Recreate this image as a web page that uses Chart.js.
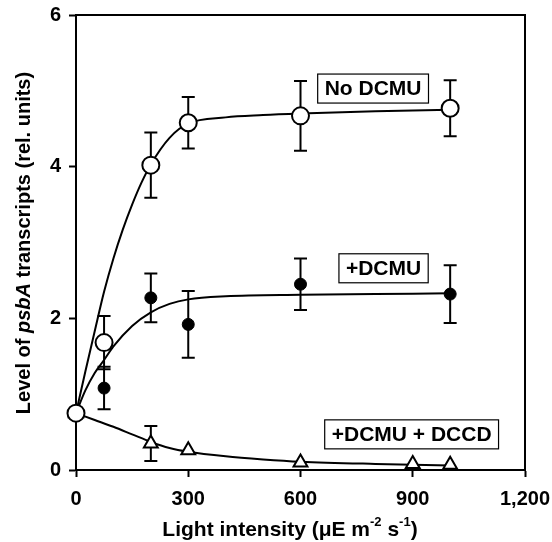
<!DOCTYPE html>
<html>
<head>
<meta charset="utf-8">
<script src="https://cdn.jsdelivr.net/npm/chart.js@4.4.0/dist/chart.umd.min.js"></script>
<style>
  html, body { margin: 0; padding: 0; background: #fff; }
</style>
</head>
<body>
<canvas id="c" width="552" height="542"></canvas>
<script>
// measured points (light intensity, µE m-2 s-1)
const lightX = [0, 75, 200, 300, 600, 1000];
const noDcmu = [0.75, 1.68, 4.02, 4.58, 4.67, 4.77];
const noDcmuErr = [0, 0.35, 0.43, 0.34, 0.46, 0.37];
const dcmu = [0.75, 1.08, 2.27, 1.92, 2.45, 2.32];
const dcmuErr = [0, 0.28, 0.32, 0.44, 0.34, 0.38];
const dccdX = [0, 200, 300, 600, 900, 1000];
const dccd = [0.75, 0.35, 0.26, 0.10, 0.08, 0.07];
const dccdErr = [0, 0.23, 0, 0, 0, 0];

// fitted curves
const noDcmuFitX = [0, 25, 50, 75, 100, 125, 150, 175, 200, 250, 300, 400, 500, 600, 800, 1000];
const noDcmuFit = [0.75, 1.30, 1.83, 2.35, 2.79, 3.17, 3.50, 3.79, 4.03, 4.38, 4.57, 4.65, 4.68, 4.70, 4.73, 4.75];
const dcmuFitX = [0, 25, 50, 75, 100, 150, 200, 250, 300, 400, 600, 800, 1000];
const dcmuFit = [0.75, 1.05, 1.28, 1.45, 1.63, 1.90, 2.08, 2.19, 2.25, 2.29, 2.31, 2.32, 2.33];
const dccdFitX = [0, 50, 100, 150, 200, 250, 300, 400, 500, 600, 800, 1000];
const dccdFit = [0.75, 0.66, 0.57, 0.47, 0.37, 0.29, 0.24, 0.18, 0.14, 0.11, 0.08, 0.06];

// axis ticks
const xTicks = [0, 300, 600, 900, 1200];
const yTicks = [0, 2, 4, 6];

// curve labels: text, x, y (data units, box centre)
const labels = [
  { text: "No DCMU", x: 794, y: 5.03 },
  { text: "+DCMU", x: 822, y: 2.66 },
  { text: "+DCMU + DCCD", x: 897, y: 0.47 }
];

const FONT = '"Liberation Sans", Arial, Helvetica, sans-serif';
const pts = (xs, ys) => xs.map((v, i) => ({ x: v, y: ys[i] }));

const errorSets = [
  { xs: lightX, ys: noDcmu, err: noDcmuErr },
  { xs: lightX, ys: dcmu, err: dcmuErr },
  { xs: dccdX, ys: dccd, err: dccdErr }
];

const decor = {
  id: "decor",
  beforeDatasetsDraw(chart) {
    const { ctx, scales: { x, y } } = chart;
    ctx.save();
    ctx.strokeStyle = "#000";
    ctx.lineWidth = 2;
    errorSets.forEach(s => s.xs.forEach((v, i) => {
      const e = s.err[i];
      if (!e) return;
      const px = x.getPixelForValue(v);
      const top = y.getPixelForValue(s.ys[i] + e);
      const bot = y.getPixelForValue(s.ys[i] - e);
      ctx.beginPath();
      ctx.moveTo(px, top); ctx.lineTo(px, bot);
      ctx.moveTo(px - 6.5, top); ctx.lineTo(px + 6.5, top);
      ctx.moveTo(px - 6.5, bot); ctx.lineTo(px + 6.5, bot);
      ctx.stroke();
    }));
    ctx.restore();
  },
  afterDraw(chart) {
    const { ctx, chartArea: a, scales: { x, y } } = chart;
    ctx.save();
    // top and right frame
    ctx.strokeStyle = "#000";
    ctx.lineWidth = 2;
    ctx.beginPath();
    ctx.moveTo(a.left - 1, a.top); ctx.lineTo(a.right, a.top); ctx.lineTo(a.right, a.bottom);
    ctx.stroke();

    // label boxes
    ctx.font = "bold 21px " + FONT;
    ctx.textAlign = "center";
    ctx.textBaseline = "middle";
    labels.forEach(l => {
      const cx = x.getPixelForValue(l.x), cy = y.getPixelForValue(l.y);
      const w = ctx.measureText(l.text).width + 14, h = 29;
      ctx.fillStyle = "#fff";
      ctx.fillRect(cx - w / 2, cy - h / 2, w, h);
      ctx.lineWidth = 1.2;
      ctx.strokeRect(cx - w / 2, cy - h / 2, w, h);
      ctx.fillStyle = "#000";
      ctx.fillText(l.text, cx, cy + 1);
    });

    // y title with italic gene name
    ctx.save();
    ctx.translate(24, 243);
    ctx.rotate(-Math.PI / 2);
    const yParts = [
      ["Level of ", "bold 20px "],
      ["psbA", "italic bold 20px "],
      [" transcripts (rel. units)", "bold 20px "]
    ];
    drawParts(ctx, yParts, 0, 0);
    ctx.restore();

    // x title with superscripts
    const xParts = [
      ["Light intensity (\u03bcE m", "bold 21px ", 0],
      ["-2", "bold 13px ", -8],
      [" s", "bold 21px ", 0],
      ["-1", "bold 13px ", -8],
      [")", "bold 21px ", 0]
    ];
    drawParts(ctx, xParts, 290, 530);
    ctx.restore();
  }
};

function drawParts(ctx, parts, cx, cy) {
  ctx.textAlign = "left";
  ctx.textBaseline = "middle";
  let total = 0;
  parts.forEach(p => { ctx.font = p[1] + FONT; total += ctx.measureText(p[0]).width; });
  let px = cx - total / 2;
  parts.forEach(p => {
    ctx.font = p[1] + FONT;
    ctx.fillStyle = "#000";
    ctx.fillText(p[0], px, cy + (p[2] || 0));
    px += ctx.measureText(p[0]).width;
  });
}

new Chart(document.getElementById("c"), {
  type: "scatter",
  data: {
    datasets: [
      {
        label: "No DCMU", data: pts(lightX, noDcmu), showLine: false, clip: false,
        pointStyle: "circle", pointRadius: 8.5, pointBackgroundColor: "#fff",
        pointBorderColor: "#000", pointBorderWidth: 2
      },
      {
        label: "+DCMU", data: pts(lightX, dcmu), showLine: false, clip: false,
        pointStyle: "circle", pointRadius: 6, pointBackgroundColor: "#000",
        pointBorderColor: "#000", pointBorderWidth: 1
      },
      {
        label: "+DCMU + DCCD", data: pts(dccdX, dccd), showLine: false, clip: false,
        pointStyle: "triangle", pointRadius: 8, pointBackgroundColor: "#fff",
        pointBorderColor: "#000", pointBorderWidth: 2
      },
      {
        data: pts(noDcmuFitX, noDcmuFit), showLine: true, pointRadius: 0,
        borderColor: "#000", borderWidth: 2, cubicInterpolationMode: "monotone"
      },
      {
        data: pts(dcmuFitX, dcmuFit), showLine: true, pointRadius: 0,
        borderColor: "#000", borderWidth: 2, cubicInterpolationMode: "monotone"
      },
      {
        data: pts(dccdFitX, dccdFit), showLine: true, pointRadius: 0,
        borderColor: "#000", borderWidth: 2, cubicInterpolationMode: "monotone"
      }
    ]
  },
  options: {
    responsive: false,
    animation: false,
    layout: { padding: { left: 0, right: 27, top: 15, bottom: 0 } },
    plugins: { legend: { display: false }, tooltip: { enabled: false } },
    scales: {
      x: {
        type: "linear", min: 0, max: 1200,
        afterBuildTicks: s => { s.ticks = xTicks.map(v => ({ value: v })); },
        afterFit: s => { s.height = 72; s.paddingLeft = 0; s.paddingRight = 0; },
        ticks: {
          color: "#000", padding: 10,
          font: { family: FONT, size: 20, weight: "bold" },
          callback: v => v.toLocaleString("en-US")
        },
        grid: { drawOnChartArea: false, tickLength: 7, color: "#000", tickWidth: 2 },
        border: { color: "#000", width: 2 }
      },
      y: {
        min: 0, max: 6,
        afterBuildTicks: s => { s.ticks = yTicks.map(v => ({ value: v })); },
        afterFit: s => { s.width = 76; s.paddingTop = 0; s.paddingBottom = 0; },
        ticks: {
          color: "#000", padding: 8,
          font: { family: FONT, size: 20, weight: "bold" }
        },
        grid: { drawOnChartArea: false, tickLength: 7, color: "#000", tickWidth: 2 },
        border: { color: "#000", width: 2 }
      }
    }
  },
  plugins: [decor]
});
</script>
</body>
</html>
